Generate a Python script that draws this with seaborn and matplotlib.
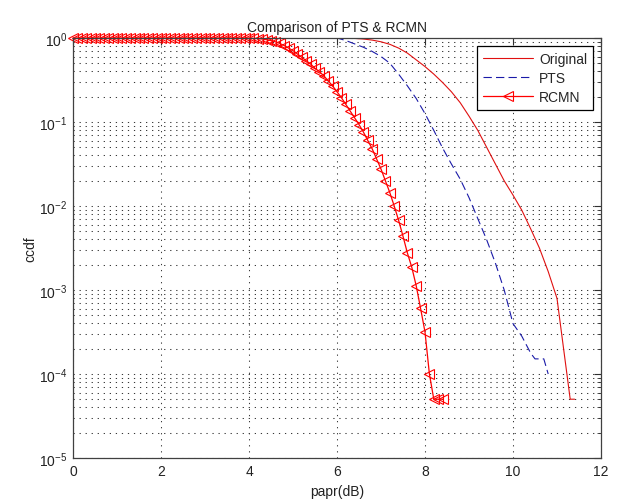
import numpy as np
import pandas as pd
import matplotlib
matplotlib.use("Agg")
import matplotlib.pyplot as plt
import seaborn as sns
from matplotlib.ticker import LogLocator, LogFormatterSciNotation, NullLocator, FixedLocator

# ---------------- data (exponents of ccdf, i.e. log10 values) ----------------
orig_x = [0.0, 6.0, 6.2, 6.4, 6.6, 6.8, 7.0, 7.2, 7.4, 7.6, 7.8, 8.0, 8.2, 8.4, 8.6,
          8.8, 9.0, 9.2, 9.4, 9.6, 9.8, 10.0, 10.2, 10.4, 10.6, 10.8, 11.0, 11.1,
          11.2, 11.3, 11.4]
orig_log = [0.0, 0.0, -0.002, -0.005, -0.012, -0.025, -0.045, -0.075, -0.12, -0.18,
            -0.26, -0.34, -0.43, -0.53, -0.64, -0.77, -0.93, -1.10, -1.30, -1.50,
            -1.70, -1.87, -2.05, -2.27, -2.50, -2.78, -3.10, -3.50, -3.90, -4.30, -4.30]

pts_x = [0.0, 6.0, 6.2, 6.4, 6.6, 6.8, 7.0, 7.2, 7.4, 7.6, 7.8, 8.0, 8.2, 8.4, 8.6,
         8.8, 9.0, 9.2, 9.4, 9.6, 9.8, 10.0, 10.2, 10.4, 10.5, 10.6, 10.7, 10.8]
pts_log = [0.0, 0.0, -0.03, -0.07, -0.11, -0.16, -0.22, -0.30, -0.43, -0.57, -0.72,
           -0.90, -1.10, -1.31, -1.50, -1.68, -1.90, -2.15, -2.40, -2.68, -3.00,
           -3.40, -3.55, -3.75, -3.82, -3.82, -3.82, -4.00]

rcmn_x = [0.0, 0.1, 0.2, 0.3, 0.4, 0.5, 0.6, 0.7, 0.8, 0.9,
          1.0, 1.1, 1.2, 1.3, 1.4, 1.5, 1.6, 1.7, 1.8, 1.9,
          2.0, 2.1, 2.2, 2.3, 2.4, 2.5, 2.6, 2.7, 2.8, 2.9,
          3.0, 3.1, 3.2, 3.3, 3.4, 3.5, 3.6, 3.7, 3.8, 3.9,
          4.0, 4.1, 4.2, 4.3, 4.4, 4.5, 4.6, 4.7, 4.8, 4.9,
          5.0, 5.1, 5.2, 5.3, 5.4, 5.5, 5.6, 5.7, 5.8, 5.9,
          6.0, 6.1, 6.2, 6.3, 6.4, 6.5, 6.6, 6.7, 6.8, 6.9,
          7.0, 7.1, 7.2, 7.3, 7.4, 7.5, 7.6, 7.7, 7.8, 7.9,
          8.0, 8.1, 8.2, 8.3, 8.4]
rcmn_log = [0.0, 0.0, 0.0, 0.0, 0.0, 0.0, 0.0, 0.0, 0.0, 0.0,
            0.0, 0.0, 0.0, 0.0, 0.0, 0.0, 0.0, 0.0, 0.0, 0.0,
            0.0, 0.0, 0.0, 0.0, 0.0, 0.0, 0.0, 0.0, 0.0, 0.0,
            0.0, 0.0, 0.0, 0.0, 0.0, 0.0, 0.0, 0.0, 0.0, 0.0,
            -0.002, -0.004, -0.007, -0.012, -0.02, -0.03, -0.045, -0.065, -0.09, -0.12,
            -0.15, -0.19, -0.23, -0.27, -0.31, -0.36, -0.40, -0.45, -0.51, -0.57,
            -0.64, -0.71, -0.79, -0.87, -0.95, -1.03, -1.12, -1.22, -1.32, -1.44,
            -1.56, -1.70, -1.84, -2.00, -2.17, -2.36, -2.56, -2.73, -2.95, -3.22,
            -3.50, -4.00, -4.30, -4.30, -4.30]

series_names = ["Original", "PTS", "RCMN"]
x_ticks = [0, 2, 4, 6, 8, 10, 12]

# ---------------- figure ----------------
sns.set_style("white")
plt.rcParams["font.family"] = ["Liberation Sans", "DejaVu Sans"]
plt.rcParams["mathtext.fontset"] = "custom"
plt.rcParams["mathtext.rm"] = "Liberation Sans"
plt.rcParams["mathtext.it"] = "Liberation Sans"
plt.rcParams["mathtext.bf"] = "Liberation Sans"

fig = plt.figure(figsize=(6.18, 5.02), dpi=100)
fig.patch.set_facecolor("white")
ax = fig.add_axes([73 / 618, 43 / 502, 528 / 618, 420 / 502])

df_o = pd.DataFrame({"x": orig_x, "y": 10 ** np.array(orig_log)})
df_p = pd.DataFrame({"x": pts_x, "y": 10 ** np.array(pts_log)})
df_r = pd.DataFrame({"x": rcmn_x, "y": 10 ** np.array(rcmn_log)})

sns.lineplot(data=df_o, x="x", y="y", ax=ax, color="#e01010", linewidth=0.8,
             estimator=None, sort=False, label=series_names[0], zorder=3)
sns.lineplot(data=df_p, x="x", y="y", ax=ax, color="#1a1aa8", linewidth=0.8,
             linestyle=(0, (7.5, 3.75)), estimator=None, sort=False,
             label=series_names[1], zorder=3)
sns.lineplot(data=df_r, x="x", y="y", ax=ax, color="#ff0000", linewidth=0.9,
             marker="<", markersize=6.8, markerfacecolor="none",
             markeredgecolor="#ff0000", markeredgewidth=0.8,
             estimator=None, sort=False, label=series_names[2], zorder=4,
             clip_on=False)

ax.set_yscale("log")
ax.set_xlim(0, 12)
ax.set_ylim(1e-5, 1)
ax.xaxis.set_major_locator(FixedLocator(x_ticks))
ax.xaxis.set_minor_locator(NullLocator())
ax.yaxis.set_major_locator(LogLocator(base=10, numticks=10))
ax.yaxis.set_minor_locator(LogLocator(base=10, subs=np.arange(2, 10), numticks=20))
ax.yaxis.set_major_formatter(LogFormatterSciNotation())

grid_kw = dict(color="#3a3a3a", linewidth=0.75, linestyle=(0, (1.2, 4.6)))
ax.grid(True, which="major", axis="both", **grid_kw)
ax.grid(True, which="minor", axis="y", **grid_kw)
ax.set_axisbelow(True)

ax.tick_params(which="both", direction="in", top=True, right=True,
               color="#303030", labelsize=10, labelcolor="#222222")
ax.tick_params(which="major", length=5, width=0.8, pad=4)
ax.tick_params(which="minor", length=3, width=0.6)
for sp in ax.spines.values():
    sp.set_color("#404040")
    sp.set_linewidth(0.9)
    sp.set_zorder(5)

ax.set_title("Comparison of PTS & RCMN", fontsize=10, pad=5, color="#222222")
ax.set_xlabel("papr(dB)", fontsize=10, labelpad=5, color="#222222")
ax.set_ylabel("ccdf", fontsize=10, labelpad=1, color="#222222")

leg = ax.legend(loc="upper right", fontsize=10, frameon=True, fancybox=False,
                framealpha=1, edgecolor="black", handlelength=3.6,
                borderaxespad=0.55, borderpad=0.45, labelspacing=0.35,
                handletextpad=0.4, numpoints=1)
leg.get_frame().set_linewidth(0.9)
leg.set_zorder(10)

fig.savefig("out.png", dpi=100, facecolor="white")
